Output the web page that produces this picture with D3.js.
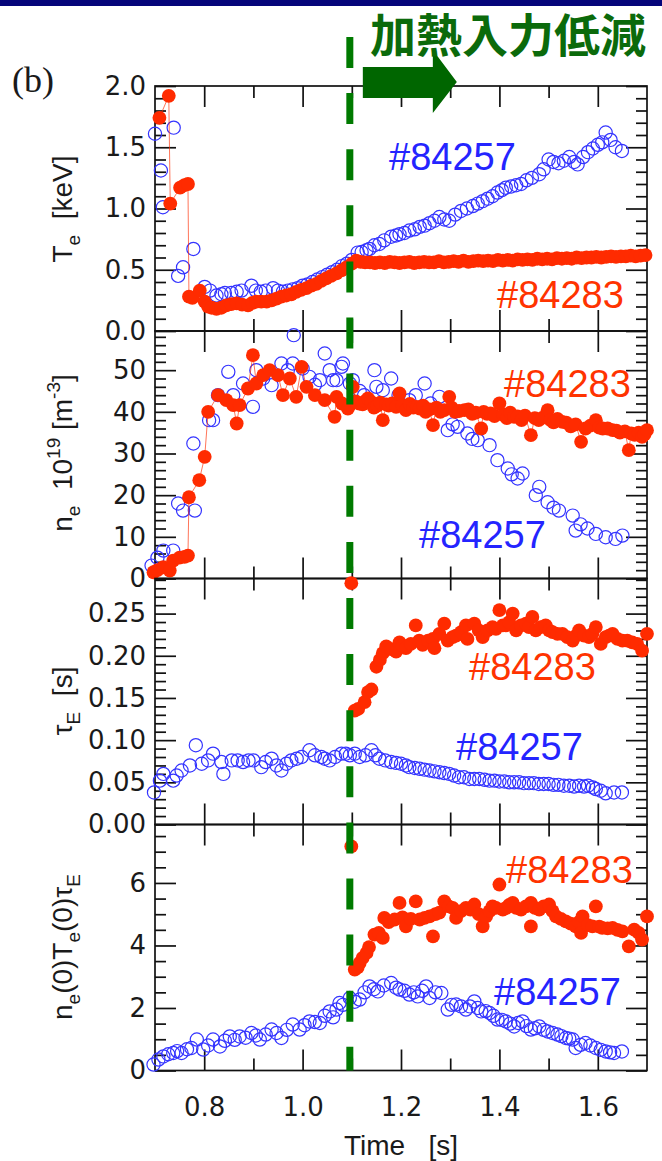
<!DOCTYPE html>
<html><head><meta charset="utf-8">
<script src="https://cdn.jsdelivr.net/npm/d3@7"></script>
<style>
body{margin:0;background:#fff;}
svg{display:block;}
text{white-space:pre;}
</style></head><body>
<script>
// ---- shot #84257 (open blue) and #84283 (filled red), [time s, value] ----
const te257 = [[0.700,1.61],[0.712,1.31],[0.716,1.01],[0.738,1.66],[0.747,0.45],[0.757,0.52],[0.778,0.67],[0.801,0.36],[0.812,0.33],[0.825,0.29],[0.835,0.30],[0.842,0.31],[0.855,0.31],[0.866,0.32],[0.876,0.33],[0.896,0.37],[0.905,0.33],[0.915,0.32],[0.925,0.33],[0.940,0.35],[0.950,0.33],[0.960,0.32],[0.970,0.33],[0.980,0.34],[0.990,0.35],[1.000,0.37],[1.010,0.38],[1.020,0.40],[1.030,0.42],[1.040,0.44],[1.050,0.46],[1.060,0.48],[1.070,0.50],[1.080,0.53],[1.090,0.55],[1.100,0.58],[1.112,0.64],[1.120,0.645],[1.130,0.66],[1.136,0.67],[1.146,0.70],[1.156,0.71],[1.166,0.74],[1.180,0.77],[1.190,0.78],[1.197,0.79],[1.207,0.80],[1.217,0.82],[1.228,0.83],[1.238,0.85],[1.248,0.86],[1.258,0.88],[1.268,0.90],[1.278,0.93],[1.288,0.91],[1.298,0.90],[1.310,0.95],[1.322,0.98],[1.334,1.00],[1.346,1.02],[1.356,1.04],[1.366,1.06],[1.376,1.08],[1.386,1.10],[1.396,1.13],[1.405,1.15],[1.413,1.17],[1.424,1.18],[1.434,1.19],[1.444,1.20],[1.455,1.23],[1.466,1.25],[1.481,1.28],[1.490,1.32],[1.500,1.40],[1.510,1.38],[1.520,1.37],[1.531,1.39],[1.542,1.42],[1.552,1.38],[1.559,1.36],[1.570,1.42],[1.580,1.46],[1.590,1.49],[1.600,1.52],[1.609,1.54],[1.616,1.62],[1.626,1.56],[1.636,1.50],[1.649,1.47]];
const te283 = [[0.709,1.74],[0.728,1.92],[0.731,1.04],[0.751,1.17],[0.760,1.19],[0.767,1.20],[0.769,0.28],[0.776,0.27],[0.791,0.33],[0.801,0.24],[0.808,0.20],[0.815,0.19],[0.825,0.18],[0.835,0.19],[0.845,0.21],[0.855,0.22],[0.866,0.225],[0.877,0.215],[0.889,0.21],[0.898,0.23],[0.906,0.24],[0.916,0.24],[0.927,0.24],[0.937,0.25],[0.947,0.265],[0.957,0.28],[0.967,0.29],[0.977,0.30],[0.987,0.32],[0.997,0.335],[1.008,0.35],[1.018,0.37],[1.028,0.385],[1.038,0.41],[1.048,0.43],[1.058,0.45],[1.069,0.47],[1.079,0.495],[1.089,0.52],[1.100,0.55],[1.109,0.575],[1.118,0.565],[1.127,0.56],[1.137,0.56],[1.147,0.555],[1.157,0.56],[1.167,0.555],[1.177,0.565],[1.187,0.56],[1.197,0.555],[1.207,0.56],[1.217,0.565],[1.227,0.555],[1.237,0.56],[1.247,0.565],[1.257,0.56],[1.267,0.56],[1.277,0.57],[1.287,0.56],[1.297,0.565],[1.307,0.57],[1.317,0.565],[1.327,0.575],[1.337,0.565],[1.347,0.57],[1.357,0.575],[1.367,0.57],[1.377,0.575],[1.387,0.57],[1.397,0.58],[1.407,0.575],[1.417,0.58],[1.427,0.575],[1.437,0.585],[1.447,0.58],[1.457,0.585],[1.467,0.58],[1.477,0.59],[1.487,0.585],[1.497,0.59],[1.507,0.585],[1.517,0.595],[1.527,0.59],[1.537,0.595],[1.547,0.59],[1.557,0.60],[1.567,0.595],[1.577,0.60],[1.587,0.60],[1.597,0.605],[1.607,0.60],[1.617,0.605],[1.627,0.61],[1.637,0.605],[1.647,0.61],[1.657,0.61],[1.667,0.615],[1.677,0.61],[1.687,0.615],[1.697,0.62]];

const ne257 = [[0.693,3.1],[0.705,5.0],[0.717,6.7],[0.737,6.7],[0.747,18],[0.757,16.3],[0.778,32.4],[0.781,16.3],[0.810,38],[0.818,38],[0.828,44],[0.849,49.6],[0.859,44],[0.879,46.8],[0.899,41.2],[0.906,50],[0.920,48],[0.937,46.4],[0.957,51.6],[0.970,50],[0.980,51.6],[0.982,58.4],[1.000,50.4],[1.014,48.4],[1.025,46.5],[1.035,47.6],[1.045,54],[1.055,50],[1.062,47.6],[1.069,47.6],[1.079,50.8],[1.082,51.6],[1.096,46.8],[1.102,47.6],[1.116,45],[1.125,44],[1.146,50],[1.150,46],[1.163,45.2],[1.180,48],[1.195,44],[1.217,42.8],[1.230,44],[1.248,46.8],[1.260,42],[1.278,43.6],[1.295,35.6],[1.305,37],[1.315,36.4],[1.335,34.8],[1.345,33.5],[1.356,33.2],[1.380,32],[1.396,28.4],[1.417,26.4],[1.425,25],[1.437,24],[1.447,25.2],[1.474,20],[1.481,22],[1.498,18.3],[1.510,17],[1.521,16.3],[1.549,15.1],[1.555,11.5],[1.565,13],[1.579,12],[1.596,10.7],[1.616,9.9],[1.636,9.5],[1.650,10.3]];
const ne283 = [[0.697,1.5],[0.705,2.0],[0.717,2.7],[0.730,1.9],[0.737,4.3],[0.750,5.0],[0.760,5.2],[0.767,5.5],[0.769,19.5],[0.790,23.6],[0.801,29.2],[0.808,40],[0.828,44],[0.845,42.8],[0.859,41.6],[0.866,37.2],[0.872,41.6],[0.889,45.6],[0.899,53.6],[0.906,46.8],[0.920,48.8],[0.933,50],[0.950,48.8],[0.960,44],[0.974,48],[0.987,43.6],[0.998,50.8],[1.008,46],[1.025,44],[1.045,42.8],[1.065,38.8],[1.069,43.6],[1.080,42],[1.092,40.8],[1.096,41.6],[1.102,46],[1.108,42.5],[1.115,42],[1.122,41.8],[1.128,42.6],[1.133,43.2],[1.140,42.3],[1.145,41],[1.152,41.5],[1.158,42.2],[1.163,38],[1.170,41.8],[1.175,41.5],[1.182,42.0],[1.190,41.2],[1.197,44.4],[1.203,41.6],[1.210,40.4],[1.218,41.9],[1.225,41],[1.232,41.2],[1.238,40.8],[1.245,41.5],[1.250,40],[1.258,40.6],[1.265,36.8],[1.272,41.0],[1.280,40],[1.288,40.4],[1.298,43.6],[1.303,41.0],[1.310,40],[1.318,40.2],[1.329,40.4],[1.337,40.6],[1.345,39.5],[1.352,39.8],[1.363,36],[1.368,40.0],[1.375,39.5],[1.382,39.6],[1.390,39],[1.400,42],[1.408,39.3],[1.415,38.5],[1.422,39.8],[1.430,38.8],[1.437,38.9],[1.445,38],[1.452,39.1],[1.464,34.4],[1.472,38.5],[1.480,38],[1.488,38.6],[1.498,40.4],[1.504,38.0],[1.510,37.5],[1.518,38.3],[1.528,37.6],[1.536,37.4],[1.545,36.5],[1.555,37.0],[1.566,32.8],[1.575,36],[1.585,36.7],[1.596,38],[1.603,36.2],[1.610,36],[1.620,36.0],[1.630,35.6],[1.638,35.5],[1.645,35],[1.655,35.3],[1.663,30.8],[1.668,34.8],[1.675,34.5],[1.683,35.0],[1.690,34],[1.695,34.6],[1.700,35.6]];

const tau257 = [[0.698,0.038],[0.710,0.052],[0.717,0.060],[0.737,0.052],[0.744,0.058],[0.754,0.064],[0.771,0.070],[0.783,0.094],[0.795,0.072],[0.808,0.076],[0.818,0.084],[0.835,0.074],[0.839,0.060],[0.856,0.076],[0.868,0.076],[0.879,0.074],[0.890,0.076],[0.900,0.076],[0.916,0.068],[0.925,0.074],[0.937,0.078],[0.947,0.070],[0.957,0.064],[0.967,0.072],[0.977,0.076],[0.988,0.078],[0.998,0.080],[1.014,0.088],[1.025,0.082],[1.038,0.080],[1.045,0.078],[1.055,0.076],[1.066,0.080],[1.079,0.084],[1.088,0.084],[1.096,0.082],[1.106,0.084],[1.116,0.080],[1.128,0.082],[1.140,0.088],[1.148,0.082],[1.156,0.078],[1.168,0.076],[1.180,0.074],[1.190,0.073],[1.200,0.072],[1.210,0.070],[1.217,0.068],[1.228,0.067],[1.238,0.066],[1.248,0.065],[1.258,0.064],[1.268,0.063],[1.278,0.062],[1.288,0.061],[1.298,0.060],[1.308,0.058],[1.318,0.056],[1.328,0.056],[1.339,0.054],[1.349,0.054],[1.359,0.054],[1.370,0.053],[1.380,0.052],[1.390,0.052],[1.400,0.051],[1.410,0.051],[1.420,0.050],[1.430,0.050],[1.440,0.050],[1.450,0.049],[1.460,0.049],[1.470,0.049],[1.480,0.048],[1.490,0.048],[1.500,0.048],[1.510,0.047],[1.520,0.047],[1.531,0.046],[1.542,0.046],[1.552,0.045],[1.562,0.046],[1.572,0.045],[1.580,0.046],[1.590,0.044],[1.596,0.042],[1.606,0.040],[1.616,0.037],[1.633,0.038],[1.649,0.038]];
const tau283 = [[1.099,0.286],[1.106,0.135],[1.113,0.137],[1.126,0.145],[1.133,0.157],[1.140,0.160],[1.150,0.187],[1.157,0.195],[1.163,0.203],[1.170,0.211],[1.180,0.208],[1.190,0.205],[1.197,0.216],[1.203,0.212],[1.210,0.209],[1.220,0.214],[1.230,0.236],[1.237,0.218],[1.244,0.213],[1.255,0.218],[1.265,0.220],[1.268,0.209],[1.278,0.226],[1.288,0.238],[1.295,0.218],[1.305,0.222],[1.312,0.224],[1.322,0.228],[1.332,0.236],[1.335,0.220],[1.349,0.238],[1.358,0.230],[1.366,0.222],[1.376,0.230],[1.386,0.234],[1.393,0.232],[1.400,0.254],[1.407,0.236],[1.413,0.236],[1.420,0.240],[1.427,0.250],[1.434,0.230],[1.444,0.236],[1.454,0.238],[1.460,0.234],[1.467,0.246],[1.474,0.230],[1.484,0.234],[1.494,0.236],[1.501,0.230],[1.508,0.228],[1.518,0.226],[1.528,0.226],[1.538,0.222],[1.549,0.218],[1.556,0.224],[1.562,0.230],[1.572,0.224],[1.582,0.222],[1.589,0.226],[1.596,0.234],[1.606,0.214],[1.616,0.222],[1.623,0.224],[1.630,0.226],[1.640,0.220],[1.650,0.218],[1.660,0.218],[1.670,0.216],[1.680,0.214],[1.690,0.206],[1.700,0.226]];

const ntt257 = [[0.697,0.19],[0.707,0.35],[0.717,0.45],[0.727,0.52],[0.737,0.56],[0.745,0.62],[0.754,0.56],[0.765,0.68],[0.774,0.72],[0.785,0.99],[0.798,0.67],[0.808,0.80],[0.818,0.99],[0.832,0.77],[0.842,0.95],[0.852,1.09],[0.862,0.98],[0.872,1.09],[0.884,1.05],[0.896,1.20],[0.905,1.12],[0.913,0.99],[0.925,1.15],[0.937,1.31],[0.947,1.20],[0.957,1.04],[0.968,1.30],[0.980,1.47],[0.994,1.31],[1.004,1.45],[1.014,1.57],[1.025,1.55],[1.035,1.52],[1.045,1.75],[1.055,1.89],[1.062,1.70],[1.069,1.95],[1.075,2.16],[1.082,2.10],[1.096,2.32],[1.106,2.20],[1.116,2.27],[1.126,2.50],[1.136,2.69],[1.145,2.60],[1.153,2.53],[1.165,2.72],[1.180,2.80],[1.190,2.65],[1.197,2.59],[1.207,2.55],[1.217,2.43],[1.226,2.50],[1.234,2.37],[1.243,2.55],[1.251,2.69],[1.258,2.32],[1.270,2.50],[1.282,2.48],[1.295,1.95],[1.303,2.10],[1.312,2.11],[1.322,2.05],[1.332,1.95],[1.340,2.05],[1.349,2.21],[1.356,2.00],[1.363,1.89],[1.372,1.90],[1.380,1.84],[1.388,1.75],[1.396,1.63],[1.405,1.62],[1.413,1.57],[1.422,1.50],[1.430,1.41],[1.438,1.52],[1.447,1.57],[1.455,1.42],[1.464,1.31],[1.472,1.35],[1.481,1.41],[1.490,1.30],[1.498,1.25],[1.508,1.20],[1.518,1.15],[1.526,1.10],[1.535,1.04],[1.542,1.02],[1.549,0.99],[1.555,0.72],[1.565,0.82],[1.575,0.88],[1.585,0.80],[1.596,0.72],[1.606,0.66],[1.616,0.61],[1.625,0.58],[1.633,0.56],[1.649,0.61]];
const ntt283 = [[1.099,7.17],[1.106,3.23],[1.112,3.30],[1.116,3.44],[1.122,3.60],[1.130,3.76],[1.135,3.95],[1.146,4.35],[1.155,4.40],[1.163,4.24],[1.166,4.88],[1.175,4.75],[1.187,4.83],[1.197,5.36],[1.203,4.90],[1.210,4.61],[1.220,4.85],[1.230,5.41],[1.238,4.83],[1.248,4.88],[1.258,4.93],[1.265,4.29],[1.270,5.00],[1.278,5.05],[1.288,5.41],[1.297,5.25],[1.305,5.20],[1.312,4.88],[1.322,5.10],[1.332,5.20],[1.341,5.15],[1.349,5.31],[1.358,5.00],[1.366,4.61],[1.373,4.93],[1.380,5.10],[1.386,5.25],[1.393,5.20],[1.400,5.95],[1.407,5.15],[1.414,5.20],[1.420,5.30],[1.427,5.36],[1.434,5.20],[1.444,5.15],[1.454,5.25],[1.464,5.36],[1.464,4.61],[1.472,5.20],[1.481,5.15],[1.490,5.25],[1.501,5.31],[1.508,5.10],[1.515,4.93],[1.525,4.85],[1.535,4.77],[1.545,4.70],[1.555,4.61],[1.562,4.75],[1.566,4.40],[1.569,4.93],[1.580,4.65],[1.589,4.61],[1.596,5.25],[1.603,4.60],[1.609,4.56],[1.620,4.55],[1.630,4.56],[1.640,4.50],[1.650,4.45],[1.663,3.97],[1.674,4.51],[1.683,4.40],[1.690,4.19],[1.700,4.93]];

// ---- axes ----
const timeDomain = [0.7, 1.7];
const timeMajor = [0.8, 1.0, 1.2, 1.4, 1.6];
const timeMinor = [0.9, 1.1, 1.3, 1.5];
const teTicks  = [0.0, 0.5, 1.0, 1.5, 2.0];
const neTicks  = [0, 10, 20, 30, 40, 50];
const tauTicks = [0.00, 0.05, 0.10, 0.15, 0.20, 0.25];
const nttTicks = [0, 2, 4, 6];
const heatingCutTime = 1.096;   // heating power reduced
const seriesNames = ["#84257", "#84283"];
const headline = "加熱入力低減";

// ---- drawing ----
const W = 662, H = 1161;
const L = 155, R = 647;
const BLUE = "#3434ff", RED = "#ff2b00", GREEN = "#007a00";
const svg = d3.select("body").append("svg").attr("width", W).attr("height", H)
  .style("font-family", "'Liberation Sans', Arial, sans-serif");

svg.append("rect").attr("x",0).attr("y",0).attr("width",W).attr("height",6).attr("fill","#05057a");

const x = d3.scaleLinear(timeDomain, [L, R]);

const panels = [
  {top: 86,    bottom: 331,   domain: [0, 2.0],   ticks: teTicks,  minorStep: 0.1,  fmt: d3.format(".1f"),
   blue: te257, red: te283, redLine: true,
   title: [["T"],["e","sub"],["  [keV]"]], cy: 209,
   lab: {blue:[389,170], red:[497,308]}},
  {top: 331,   bottom: 578.5, domain: [0, 59.4],  ticks: neTicks,  minorStep: 2,    fmt: d3.format("d"),
   blue: ne257, red: ne283, redLine: true,
   title: [["n"],["e","sub"],["  10"],["19","sup"],[" [m"],["-3","sup"],["]"]], cy: 453,
   lab: {blue:[419,548], red:[504,397]}},
  {top: 578.5, bottom: 824.5, domain: [0, 0.2916], ticks: tauTicks, minorStep: 0.01, fmt: d3.format(".2f"),
   blue: tau257, red: tau283, redLine: false,
   title: [["τ"],["E","sub"],["  [s]"]], cy: 701,
   lab: {blue:[456,760], red:[469,680]}},
  {top: 824.5, bottom: 1070.5, domain: [0, 7.87], ticks: nttTicks, minorStep: 0.5,  fmt: d3.format("d"),
   blue: ntt257, red: ntt283, redLine: false,
   title: [["n"],["e","sub"],["(0)T"],["e","sub"],["(0)τ"],["E","sub"]], cy: 947,
   lab: {blue:[494,1005], red:[506,883]}}
];

function styleAxis(g){
  g.select(".domain").remove();
  g.selectAll(".tick line").attr("stroke","#111").attr("stroke-width",1.7);
  g.selectAll(".tick text").attr("fill","#1a1a1a")
    .style("font-family","'DejaVu Sans', sans-serif").style("font-size","26px");
}

panels.forEach((p, i) => {
  const y = d3.scaleLinear(p.domain, [p.bottom, p.top]);
  const g = svg.append("g");
  const minor = d3.range(0, p.domain[1] + 1e-9, p.minorStep)
    .filter(v => !p.ticks.some(t => Math.abs(t - v) < p.minorStep / 10));

  // y ticks, both sides, pointing inward
  g.append("g").attr("transform", `translate(${L},0)`)
    .call(d3.axisLeft(y).tickValues(p.ticks).tickFormat(p.fmt).tickSizeInner(-21).tickSizeOuter(0).tickPadding(9))
    .call(styleAxis);
  g.append("g").attr("transform", `translate(${L},0)`)
    .call(d3.axisLeft(y).tickValues(minor).tickFormat("").tickSizeInner(-11).tickSizeOuter(0))
    .call(styleAxis);
  g.append("g").attr("transform", `translate(${R},0)`)
    .call(d3.axisRight(y).tickValues(p.ticks).tickFormat("").tickSizeInner(-21).tickSizeOuter(0))
    .call(styleAxis);
  g.append("g").attr("transform", `translate(${R},0)`)
    .call(d3.axisRight(y).tickValues(minor).tickFormat("").tickSizeInner(-11).tickSizeOuter(0))
    .call(styleAxis);

  // time ticks on top and bottom edge
  g.append("g").attr("transform", `translate(0,${p.top})`)
    .call(d3.axisTop(x).tickValues(timeMajor).tickFormat("").tickSizeInner(-21).tickSizeOuter(0)).call(styleAxis);
  g.append("g").attr("transform", `translate(0,${p.top})`)
    .call(d3.axisTop(x).tickValues(timeMinor).tickFormat("").tickSizeInner(-12).tickSizeOuter(0)).call(styleAxis);
  const last = i === panels.length - 1;
  g.append("g").attr("transform", `translate(0,${p.bottom})`)
    .call(d3.axisBottom(x).tickValues(timeMajor).tickFormat(last ? d3.format(".1f") : "")
      .tickSizeInner(-21).tickSizeOuter(0).tickPadding(27)).call(styleAxis);
  g.append("g").attr("transform", `translate(0,${p.bottom})`)
    .call(d3.axisBottom(x).tickValues(timeMinor).tickFormat("").tickSizeInner(-12).tickSizeOuter(0)).call(styleAxis);

  g.append("rect").attr("x", L).attr("y", p.top).attr("width", R - L).attr("height", p.bottom - p.top)
    .attr("fill","none").attr("stroke","#111").attr("stroke-width",1.7);

  // y-axis title
  const t = g.append("text").attr("transform", `translate(72,${p.cy}) rotate(-90)`)
    .attr("text-anchor","middle").attr("fill","#1a1a1a").style("font-size","28px");
  let shift = 0;
  p.title.forEach(([s, kind]) => {
    const ts = t.append("tspan").text(s);
    const target = kind === "sub" ? 8 : kind === "sup" ? -12 : 0;
    ts.attr("dy", target - shift);
    shift = target;
    if (kind) ts.style("font-size","19px");
  });

  // shot #84257: open circles
  g.append("g").selectAll("circle").data(p.blue).join("circle")
    .attr("cx", d => x(d[0])).attr("cy", d => y(d[1])).attr("r", 6.6)
    .attr("fill","none").attr("stroke", BLUE).attr("stroke-width", 1.2);

  // shot #84283: filled circles (joined by a thin trace in the first two panels)
  if (p.redLine) {
    g.append("path").datum(p.red.slice().sort((a, b) => a[0] - b[0]))
      .attr("d", d3.line().x(d => x(d[0])).y(d => y(d[1])))
      .attr("fill","none").attr("stroke", RED).attr("stroke-width", 1).attr("stroke-opacity", 0.65);
  }
  g.append("g").selectAll("circle").data(p.red).join("circle")
    .attr("cx", d => x(d[0])).attr("cy", d => y(d[1])).attr("r", 6.9)
    .attr("fill", RED);

  g.append("text").attr("x", p.lab.blue[0]).attr("y", p.lab.blue[1]).attr("fill","#2424ff")
    .style("font-size","38px").text(seriesNames[0]);
  g.append("text").attr("x", p.lab.red[0]).attr("y", p.lab.red[1]).attr("fill","#ff3300")
    .style("font-size","38px").text(seriesNames[1]);
});

// heating cut marker
svg.append("line").attr("x1", x(heatingCutTime)).attr("x2", x(heatingCutTime))
  .attr("y1", 37).attr("y2", 1070.5)
  .attr("stroke", GREEN).attr("stroke-width", 7).attr("stroke-dasharray", "31 25.1");

// arrow + headline
const ax0 = x(heatingCutTime) + 13;
svg.append("path")
  .attr("d", `M${ax0},67 H${ax0+70} V50 L${ax0+94},82 L${ax0+70},113 V98 H${ax0} Z`)
  .attr("fill", "#006600");
svg.append("text").attr("x", 370).attr("y", 52).attr("fill","#0b6a0b")
  .style("font-family","'Noto Sans CJK JP', sans-serif").style("font-weight","bold").style("font-size","46px")
  .text(headline);

// panel tag and time axis title
svg.append("text").attr("x", 12).attr("y", 92).attr("fill","#1a1a1a")
  .style("font-family","'Liberation Serif', 'Times New Roman', serif").style("font-size","36px").text("(b)");
svg.append("text").attr("x", x(1.2)).attr("y", 1155).attr("text-anchor","middle").attr("fill","#1a1a1a")
  .style("font-size","28px").text("Time   [s]");
</script>
</body></html>
